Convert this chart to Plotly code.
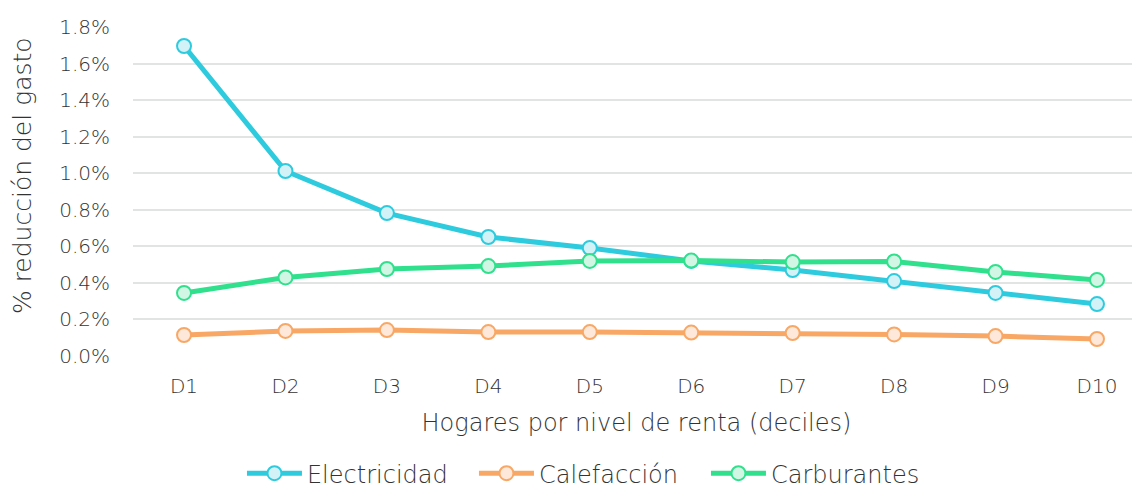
import plotly.graph_objects as go

categories = ["D1", "D2", "D3", "D4", "D5", "D6", "D7", "D8", "D9", "D10"]
electricidad = [1.696, 1.012, 0.782, 0.651, 0.591, 0.520, 0.470, 0.410, 0.345, 0.284]
calefaccion = [0.115, 0.137, 0.142, 0.131, 0.131, 0.128, 0.126, 0.118, 0.109, 0.093]
carburantes = [0.345, 0.430, 0.476, 0.492, 0.520, 0.522, 0.514, 0.517, 0.460, 0.416]
yticks = [0.0, 0.2, 0.4, 0.6, 0.8, 1.0, 1.2, 1.4, 1.6, 1.8]

series = [
    ("Electricidad", electricidad, "#2ECBDE", "#D3F2F7"),
    ("Calefacción", calefaccion, "#F8A765", "#FDE8DA"),
    ("Carburantes", carburantes, "#30E08D", "#D2F6E4"),
]

FONT = "DejaVu Sans"
W = 200
TXT = "#333333"
FS = 20      # tick labels
FT = 24      # titles and legend

# page body has an 8px margin, so the figure is laid out 8px smaller
fig = go.Figure()
for name, vals, col, fill in series:
    fig.add_trace(go.Scatter(
        x=list(range(len(categories))), y=[v / 100 for v in vals], name=name,
        mode="lines+markers",
        line=dict(color=col, width=5),
        marker=dict(size=14, color=fill, line=dict(color=col, width=2)),
    ))

fig.add_annotation(
    text="% reducción del gasto", textangle=-90,
    xref="paper", yref="paper", x=-0.1102, y=0.547,
    xanchor="center", yanchor="middle", showarrow=False,
    font=dict(size=25, color=TXT, family=FONT, weight=W),
)

fig.update_layout(
    width=1132, height=480,
    margin=dict(l=125, r=0, t=19, b=132, autoexpand=False),
    paper_bgcolor="white", plot_bgcolor="white",
    font=dict(family=FONT, size=FS, color=TXT, weight=W),
    showlegend=True,
    legend=dict(orientation="h", x=0.1082, xanchor="left",
                yref="container", y=0.03, yanchor="middle",
                font=dict(size=FT, color=TXT, weight=W),
                itemwidth=55, entrywidth=162, tracegroupgap=0),
    xaxis=dict(
        tickmode="array", tickvals=list(range(len(categories))), ticktext=categories,
        range=[-0.503, 9.424], showgrid=False, zeroline=False, showline=False,
        ticks="", ticklabelstandoff=16, automargin=False,
        title=dict(text="Hogares por nivel de renta (deciles)", standoff=17,
                   font=dict(size=FT, color=TXT, weight=W)),
        tickfont=dict(size=FS, color=TXT, weight=W),
    ),
    yaxis=dict(
        range=[0, 0.018], tickmode="array", tickvals=[v / 100 for v in yticks],
        ticktext=[f"{v:.1f}%" for v in yticks],
        showgrid=True, gridcolor="#E2E4E4", gridwidth=2,
        zeroline=False, showline=False, ticks="", ticklabelstandoff=22,
        automargin=False,
        tickfont=dict(size=FS, color=TXT, weight=W),
    ),
)
fig.write_html("out.html")
